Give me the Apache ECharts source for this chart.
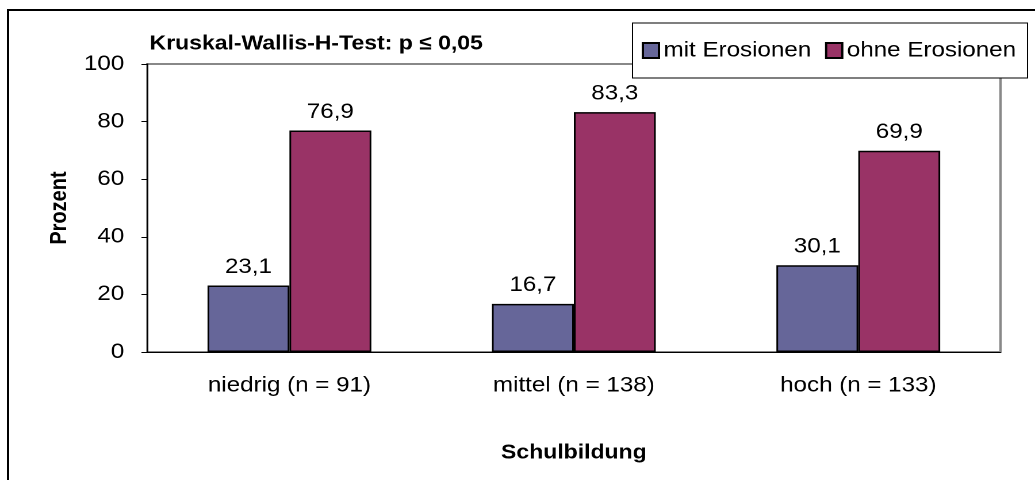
<!DOCTYPE html>
<html>
<head>
<meta charset="utf-8">
<script src="https://cdn.jsdelivr.net/npm/echarts@6/dist/echarts.min.js"></script>
<style>
html,body{margin:0;padding:0;background:#fff;overflow:hidden;}
#wrap{position:absolute;left:0;top:0;width:1035px;height:480px;overflow:hidden;}
#c{position:absolute;left:0;top:0;width:900px;height:480px;transform:scaleX(1.15);transform-origin:0 0;}
#frame{position:absolute;left:7px;top:9px;width:1100px;height:600px;border:2px solid #000;box-sizing:border-box;pointer-events:none;}
</style>
</head>
<body>
<div id="wrap">
  <div id="c"></div>
  <div id="frame"></div>
</div>
<script>
const categories = ['niedrig (n = 91)', 'mittel (n = 138)', 'hoch (n = 133)'];
const mitErosionen = [23.1, 16.7, 30.1];
const ohneErosionen = [76.9, 83.3, 69.9];
const seriesNames = ['mit Erosionen', 'ohne Erosionen'];
const yTicks = { min: 0, max: 100, interval: 20 };
const titleText = 'Kruskal-Wallis-H-Test: p \u2264 0,05';
const xAxisTitle = 'Schulbildung';
const yAxisTitle = 'Prozent';

const FONT = 'Arial, "Liberation Sans", sans-serif';
const chart = echarts.init(document.getElementById('c'), null, { renderer: 'canvas', devicePixelRatio: 2 });

const labelFmt = p => p.value.toFixed(1).replace('.', ',');

chart.setOption({
  animation: false,
  backgroundColor: '#fff',
  textStyle: { fontFamily: FONT, color: '#000' },
  title: {
    text: titleText,
    left: 130, top: 34, padding: 0,
    textStyle: { fontFamily: FONT, fontWeight: 'bold', fontSize: 20, color: '#000' }
  },
  legend: {
    data: seriesNames,
    left: 550, top: 23,
    orient: 'horizontal',
    backgroundColor: '#fff',
    borderColor: '#000', borderWidth: 1,
    padding: [17, 10, 17, 8],
    itemWidth: 14, itemHeight: 15, itemGap: 12,
    icon: 'rect',
    textStyle: { fontFamily: FONT, fontSize: 21, color: '#000', padding: [0, 0, 0, -1] },
    z: 10
  },
  grid: {
    left: 128, right: 30, top: 64, bottom: 128,
    show: true, borderColor: '#888', borderWidth: 2, backgroundColor: 'transparent'
  },
  xAxis: {
    type: 'category',
    data: categories,
    name: xAxisTitle,
    nameLocation: 'middle',
    nameGap: 91,
    nameTextStyle: { fontFamily: FONT, fontWeight: 'bold', fontSize: 20, color: '#000' },
    axisLine: { lineStyle: { color: '#000', width: 1 } },
    axisTick: { show: false },
    axisLabel: { fontFamily: FONT, fontSize: 21, color: '#000', margin: 23 }
  },
  yAxis: {
    type: 'value',
    min: yTicks.min, max: yTicks.max, interval: yTicks.interval,
    name: yAxisTitle,
    nameLocation: 'middle',
    nameGap: 64,
    nameRotate: 90,
    nameTextStyle: { fontFamily: FONT, fontWeight: 'bold', fontSize: 20, color: '#000' },
    axisLine: { show: true, lineStyle: { color: '#000', width: 1 } },
    axisTick: { show: true, length: 5, inside: false, lineStyle: { color: '#000' } },
    axisLabel: { fontFamily: FONT, fontSize: 21, color: '#000', margin: 20 },
    splitLine: { show: false }
  },
  series: [
    {
      name: seriesNames[0], type: 'bar', data: mitErosionen,
      barGap: '0%', barCategoryGap: '42.4%',
      itemStyle: { color: '#666699', borderColor: '#000', borderWidth: 1.5 },
      label: { show: true, position: 'top', distance: 8, fontFamily: FONT, fontSize: 21, color: '#000', formatter: labelFmt }
    },
    {
      name: seriesNames[1], type: 'bar', data: ohneErosionen,
      barGap: '0%', barCategoryGap: '42.4%',
      itemStyle: { color: '#993366', borderColor: '#000', borderWidth: 1.5 },
      label: { show: true, position: 'top', distance: 8, fontFamily: FONT, fontSize: 21, color: '#000', formatter: labelFmt }
    }
  ]
});
</script>
</body>
</html>
